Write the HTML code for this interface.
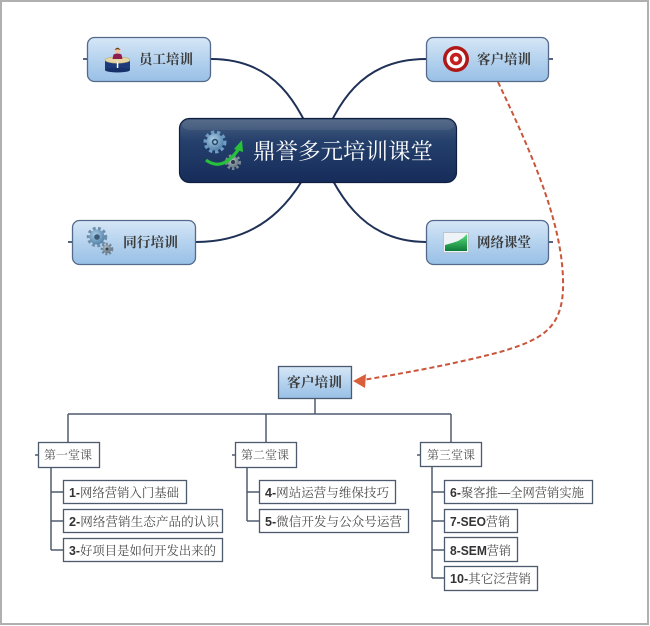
<!DOCTYPE html>
<html><head><meta charset="utf-8">
<style>
html,body{margin:0;padding:0;background:#fff;}
svg{display:block;}
.sub{font-family:"Liberation Serif","Noto Serif CJK SC",serif;font-weight:bold;font-size:13.5px;fill:#3c3c3c;}
.hdr{font-family:"Liberation Serif","Noto Serif CJK SC",serif;font-size:12px;fill:#555;}
.ch{font-family:"Liberation Sans","Noto Serif CJK SC",serif;font-size:12.5px;fill:#4a4a4a;}
.ch tspan.n{font-weight:bold;fill:#333;}
</style></head>
<body>
<svg width="650" height="626" viewBox="0 0 650 626" xmlns="http://www.w3.org/2000/svg">
<defs>
  <linearGradient id="gSub" x1="0" y1="0" x2="0" y2="1">
    <stop offset="0" stop-color="#d6e7f7"/>
    <stop offset="0.5" stop-color="#b5d2ee"/>
    <stop offset="1" stop-color="#98c0e6"/>
  </linearGradient>
  <linearGradient id="gMain" x1="0" y1="0" x2="0" y2="1">
    <stop offset="0" stop-color="#4a6080"/>
    <stop offset="0.35" stop-color="#25406c"/>
    <stop offset="1" stop-color="#162c5a"/>
  </linearGradient>
  <linearGradient id="gChart" x1="0" y1="0" x2="0" y2="1">
    <stop offset="0" stop-color="#5be07a"/>
    <stop offset="1" stop-color="#0e7a3a"/>
  </linearGradient>
  <radialGradient id="gGear" cx="0.4" cy="0.35" r="0.7">
    <stop offset="0" stop-color="#a9cce6"/>
    <stop offset="1" stop-color="#4f7ea6"/>
  </radialGradient>
  <radialGradient id="gGear2" cx="0.4" cy="0.35" r="0.7">
    <stop offset="0" stop-color="#b8c4cc"/>
    <stop offset="1" stop-color="#5e6e7a"/>
  </radialGradient>
</defs>

<!-- frame -->
<rect x="1" y="1" width="647" height="623" fill="#fff" stroke="#b0b0b0" stroke-width="2"/>

<!-- main connectors -->
<g fill="none" stroke="#1f3157" stroke-width="2">
  <path d="M211,59 C280,59 300,110 318,150"/>
  <path d="M426,59 C356,59 336,110 318,150"/>
  <path d="M196,242 C270,242 300,190 318,150"/>
  <path d="M426,242 C360,242 336,190 318,150"/>
</g>
<!-- stubs -->
<g stroke="#1f3157" stroke-width="1.5">
  <line x1="83" y1="59" x2="87" y2="59"/>
  <line x1="549" y1="59" x2="553" y2="59"/>
  <line x1="68" y1="242" x2="72" y2="242"/>
  <line x1="549" y1="242" x2="553" y2="242"/>
</g>

<!-- central node -->
<rect x="179.5" y="118.5" width="277" height="64" rx="10" fill="url(#gMain)" stroke="#0f1f40" stroke-width="1.2"/>
<rect x="182" y="120" width="272" height="10" rx="8" fill="#ffffff" opacity="0.08"/>
<!-- central icon -->
<g>
  <circle cx="215" cy="142" r="9.5" fill="none" stroke="#6d9cc4" stroke-width="4" stroke-dasharray="3.2 2.6"/>
  <circle cx="215" cy="142" r="8.5" fill="url(#gGear)"/>
  <circle cx="215" cy="142" r="3.2" fill="#2a4a6a"/>
  <circle cx="215" cy="142" r="1.6" fill="#9fc3e0"/>
  <circle cx="233" cy="162" r="6.5" fill="none" stroke="#7d8b96" stroke-width="3" stroke-dasharray="2.4 2"/>
  <circle cx="233" cy="162" r="5.5" fill="url(#gGear2)"/>
  <circle cx="233" cy="162" r="2" fill="#2b3a46"/>
  <path d="M206,160 Q222,172 238,150" fill="none" stroke="#28c03a" stroke-width="3.2"/>
  <polygon points="242,140 234,149 243,152" fill="#28c03a"/>
</g>
<text x="253" y="159" font-family="'Liberation Serif','Noto Serif CJK SC',serif" font-size="22" fill="#ffffff" textLength="180" lengthAdjust="spacingAndGlyphs">鼎誉多元培训课堂</text>

<!-- sub nodes -->
<rect x="87.5" y="37.5" width="123" height="44" rx="7" fill="url(#gSub)" stroke="#55698a" stroke-width="1.3"/>
<rect x="426.5" y="37.5" width="122" height="44" rx="7" fill="url(#gSub)" stroke="#55698a" stroke-width="1.3"/>
<rect x="72.5" y="220.5" width="123" height="44" rx="7" fill="url(#gSub)" stroke="#55698a" stroke-width="1.3"/>
<rect x="426.5" y="220.5" width="122" height="44" rx="7" fill="url(#gSub)" stroke="#55698a" stroke-width="1.3"/>

<!-- icon: person on pedestal -->
<g>
  <rect x="105" y="60" width="25" height="10" fill="#1e3a7a"/>
  <ellipse cx="117.5" cy="70" rx="12.5" ry="2.5" fill="#16306a"/>
  <ellipse cx="117.5" cy="60" rx="12.5" ry="3.2" fill="#e6d6a6" stroke="#b8a572" stroke-width="0.6"/>
  <path d="M112.5,59 L113.5,54.5 Q117.5,52.5 121.5,54.5 L122.5,59 Z" fill="#8e1d4e"/>
  <circle cx="117.5" cy="50.5" r="3" fill="#f0c49a"/>
  <path d="M114.5,50 Q117.5,45.5 120.5,50 Q117.5,48.5 114.5,50Z" fill="#6a3a1a"/>
  <rect x="116.8" y="63" width="1.5" height="5" fill="#fff"/>
  <rect x="116.8" y="61.5" width="1.5" height="1" fill="#fff"/>
</g>
<text x="139" y="64" class="sub" textLength="54" lengthAdjust="spacingAndGlyphs">员工培训</text>

<!-- icon: target -->
<g>
  <circle cx="456" cy="59" r="13" fill="#b01818"/>
  <circle cx="456" cy="59" r="9.5" fill="#ffffff"/>
  <circle cx="456" cy="59" r="6.2" fill="#c42020"/>
  <circle cx="456" cy="59" r="2.6" fill="#ffffff"/>
</g>
<text x="477" y="64" class="sub" textLength="54" lengthAdjust="spacingAndGlyphs">客户培训</text>

<!-- icon: gears -->
<g>
  <circle cx="97" cy="237" r="8.5" fill="none" stroke="#6f8ea8" stroke-width="3.5" stroke-dasharray="2.8 2.3"/>
  <circle cx="97" cy="237" r="7.5" fill="url(#gGear)"/>
  <circle cx="97" cy="237" r="2.8" fill="#3c5a74"/>
  <circle cx="107" cy="249" r="5" fill="none" stroke="#6f8495" stroke-width="2.6" stroke-dasharray="2 1.7"/>
  <circle cx="107" cy="249" r="4.2" fill="url(#gGear2)"/>
  <circle cx="107" cy="249" r="1.5" fill="#34444f"/>
</g>
<text x="123" y="247" class="sub" textLength="55" lengthAdjust="spacingAndGlyphs">同行培训</text>

<!-- icon: chart -->
<g>
  <rect x="443.5" y="232.5" width="25" height="20" fill="#eef3f8" stroke="#b9c6d2" stroke-width="1"/>
  <polygon points="445,251 445,245 452,243 458,241 463,238 467,234 467,251" fill="url(#gChart)"/>
</g>
<text x="477" y="247" class="sub" textLength="54" lengthAdjust="spacingAndGlyphs">网络课堂</text>

<!-- dashed relationship -->
<path d="M498,82 C535,160 565,230 563,290 C561,330 540,340 500,352 C450,365 410,372 363,380" fill="none" stroke="#c9553a" stroke-width="2" stroke-dasharray="5 3"/>
<polygon points="353,381 366,374 365,388" fill="#d9603b"/>

<!-- tree -->
<g stroke="#4d5a6e" stroke-width="1.5" fill="none">
  <line x1="315" y1="399" x2="315" y2="414"/>
  <line x1="68" y1="414" x2="451" y2="414"/>
  <line x1="68" y1="414" x2="68" y2="442"/>
  <line x1="266" y1="414" x2="266" y2="442"/>
  <line x1="451" y1="414" x2="451" y2="442"/>
  <!-- col1 -->
  <path d="M51,467 L51,550"/>
  <line x1="51" y1="492" x2="63" y2="492"/>
  <line x1="51" y1="521" x2="63" y2="521"/>
  <line x1="51" y1="550" x2="63" y2="550"/>
  <!-- col2 -->
  <path d="M247,467 L247,521"/>
  <line x1="247" y1="492" x2="259" y2="492"/>
  <line x1="247" y1="521" x2="259" y2="521"/>
  <!-- col3 -->
  <path d="M432,467 L432,578"/>
  <line x1="432" y1="492" x2="444" y2="492"/>
  <line x1="432" y1="521" x2="444" y2="521"/>
  <line x1="432" y1="550" x2="444" y2="550"/>
  <line x1="432" y1="578" x2="444" y2="578"/>
  <!-- ticks -->
  <line x1="35" y1="455" x2="38" y2="455"/>
  <line x1="232" y1="455" x2="235" y2="455"/>
  <line x1="417" y1="455" x2="420" y2="455"/>
</g>

<!-- small 客户培训 -->
<rect x="278.5" y="366.5" width="73" height="32" fill="url(#gSub)" stroke="#4a5a72" stroke-width="1.3"/>
<text x="287" y="387" class="sub" textLength="55" lengthAdjust="spacingAndGlyphs">客户培训</text>

<!-- headers -->
<g fill="#fff" stroke="#4d5a6e" stroke-width="1.3">
  <rect x="38.5" y="442.5" width="61" height="25"/>
  <rect x="235.5" y="442.5" width="61" height="25"/>
  <rect x="420.5" y="442.5" width="61" height="24"/>
</g>
<text x="44" y="459" class="hdr" textLength="48" lengthAdjust="spacingAndGlyphs">第一堂课</text>
<text x="241" y="459" class="hdr" textLength="48" lengthAdjust="spacingAndGlyphs">第二堂课</text>
<text x="427" y="459" class="hdr" textLength="48" lengthAdjust="spacingAndGlyphs">第三堂课</text>

<!-- child boxes -->
<g fill="#fff" stroke="#4d5a6e" stroke-width="1.3">
  <rect x="63.5" y="480.5" width="123" height="23"/>
  <rect x="63.5" y="509.5" width="159" height="23"/>
  <rect x="63.5" y="538.5" width="159" height="23"/>
  <rect x="259.5" y="480.5" width="136" height="23"/>
  <rect x="259.5" y="509.5" width="149" height="23"/>
  <rect x="444.5" y="480.5" width="148" height="23"/>
  <rect x="444.5" y="509.5" width="73" height="23"/>
  <rect x="444.5" y="537.5" width="73" height="24"/>
  <rect x="444.5" y="566.5" width="93" height="24"/>
</g>
<text x="69" y="497" class="ch" textLength="110" lengthAdjust="spacingAndGlyphs"><tspan class="n">1-</tspan>网络营销入门基础</text>
<text x="69" y="526" class="ch" textLength="150" lengthAdjust="spacingAndGlyphs"><tspan class="n">2-</tspan>网络营销生态产品的认识</text>
<text x="69" y="555" class="ch" textLength="147" lengthAdjust="spacingAndGlyphs"><tspan class="n">3-</tspan>好项目是如何开发出来的</text>
<text x="265" y="497" class="ch" textLength="124" lengthAdjust="spacingAndGlyphs"><tspan class="n">4-</tspan>网站运营与维保技巧</text>
<text x="265" y="526" class="ch" textLength="137" lengthAdjust="spacingAndGlyphs"><tspan class="n">5-</tspan>微信开发与公众号运营</text>
<text x="450" y="497" class="ch" textLength="134" lengthAdjust="spacingAndGlyphs"><tspan class="n">6-</tspan>聚客推—全网营销实施</text>
<text x="450" y="526" class="ch" textLength="60" lengthAdjust="spacingAndGlyphs"><tspan class="n">7-SEO</tspan>营销</text>
<text x="450" y="555" class="ch" textLength="61" lengthAdjust="spacingAndGlyphs"><tspan class="n">8-SEM</tspan>营销</text>
<text x="450" y="583" class="ch" textLength="81" lengthAdjust="spacingAndGlyphs"><tspan class="n">10-</tspan>其它泛营销</text>
</svg>
</body></html>
